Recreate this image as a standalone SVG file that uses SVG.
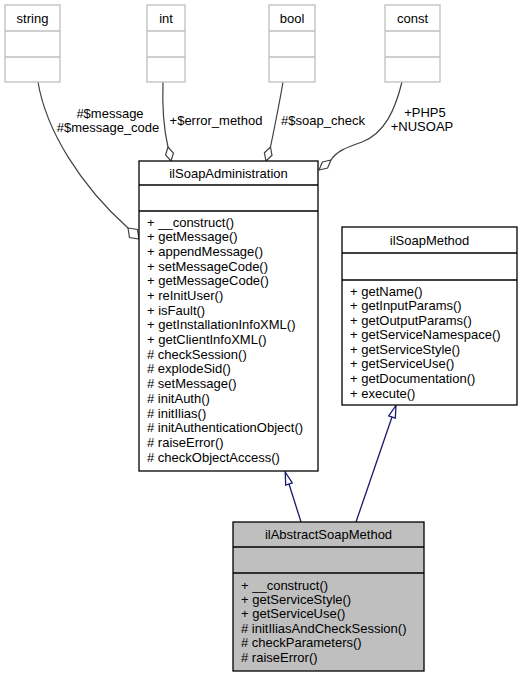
<svg xmlns="http://www.w3.org/2000/svg" width="523" height="677" viewBox="0 0 523 677">
<style>
text{font-family:"Liberation Sans",Arial,Helvetica,sans-serif;font-size:13px;fill:#000}
.c{text-anchor:middle}
.gb{fill:#fff;stroke:#bfbfbf;stroke-width:1.3}
.gl{stroke:#bfbfbf;stroke-width:1.3}
.b{fill:#fff;stroke:#000;stroke-width:1.3}
.bg{fill:#bfbfbf;stroke:#000;stroke-width:1.3}
.bl{stroke:#000;stroke-width:1.3}
.agg{fill:none;stroke:#404040;stroke-width:1.2}
.dia{fill:#fff;stroke:#404040;stroke-width:1.2}
.inh{fill:none;stroke:#191970;stroke-width:1.3}
.tri{fill:#fff;stroke:#191970;stroke-width:1.3}
</style>
<rect width="523" height="677" fill="#fff"/>
<g id="connectors">
<path class="agg" d="M38,82 C46,130 80,185 128,228"/>
<polygon class="dia" points="128,228 137.5,229.5 139,239 129.5,237.5"/>
<text class="c" x="110" y="117.5">#$message</text>
<text class="c" x="108" y="131.5">#$message_code</text>
<path class="agg" d="M163,82 C162,110 164,130 168,147"/>
<polygon class="dia" points="168,147 173.4,153.2 171,161 165.6,154.8"/>
<text class="c" x="216" y="124.5">+$error_method</text>
<path class="agg" d="M283,82 C280,100 275,125 270.5,147"/>
<polygon class="dia" points="270.5,147 272,155.2 266,161 264.4,152.8"/>
<text class="c" x="323" y="124.5">#$soap_check</text>
<path class="agg" d="M402,82 C395,110 385,133 362,142 C345,148 337,151 331,160"/>
<polygon class="dia" points="331,160 327.6,168.1 319,170 322.4,161.9"/>
<text class="c" x="425" y="116.5">+PHP5</text>
<text class="c" x="422" y="131">+NUSOAP</text>
<path class="inh" d="M301,522 L289,484"/>
<polygon class="tri" points="285.2,472 292.3,482.9 285.7,485.1"/>
<path class="inh" d="M356,522 L392,417"/>
<polygon class="tri" points="396,405.5 395.3,418.1 388.7,415.9"/>
</g>
<g id="string">
<rect class="gb" x="5" y="5" width="55" height="77"/>
<line class="gl" x1="5" y1="31" x2="60" y2="31"/>
<line class="gl" x1="5" y1="57" x2="60" y2="57"/>
<text class="c" x="32.5" y="22.5">string</text>
</g>
<g id="int">
<rect class="gb" x="147" y="5" width="38" height="77"/>
<line class="gl" x1="147" y1="31" x2="185" y2="31"/>
<line class="gl" x1="147" y1="57" x2="185" y2="57"/>
<text class="c" x="166" y="22.5">int</text>
</g>
<g id="bool">
<rect class="gb" x="269" y="5" width="46" height="77"/>
<line class="gl" x1="269" y1="31" x2="315" y2="31"/>
<line class="gl" x1="269" y1="57" x2="315" y2="57"/>
<text class="c" x="292" y="22.5">bool</text>
</g>
<g id="const">
<rect class="gb" x="385" y="5" width="55" height="77"/>
<line class="gl" x1="385" y1="31" x2="440" y2="31"/>
<line class="gl" x1="385" y1="57" x2="440" y2="57"/>
<text class="c" x="412.5" y="22.5">const</text>
</g>
<g id="ilSoapAdministration">
<rect class="b" x="139" y="161" width="179" height="310"/>
<line class="bl" x1="139" y1="185" x2="318" y2="185"/>
<line class="bl" x1="139" y1="211" x2="318" y2="211"/>
<text class="c" x="228.5" y="177.5">ilSoapAdministration</text>
<text x="147" y="226.5">+ __construct()</text>
<text x="147" y="241.2">+ getMessage()</text>
<text x="147" y="255.9">+ appendMessage()</text>
<text x="147" y="270.6">+ setMessageCode()</text>
<text x="147" y="285.3">+ getMessageCode()</text>
<text x="147" y="300">+ reInitUser()</text>
<text x="147" y="314.6">+ isFault()</text>
<text x="147" y="329.3">+ getInstallationInfoXML()</text>
<text x="147" y="344">+ getClientInfoXML()</text>
<text x="147" y="358.7">#  checkSession()</text>
<text x="147" y="373.4">#  explodeSid()</text>
<text x="147" y="388.1">#  setMessage()</text>
<text x="147" y="402.8">#  initAuth()</text>
<text x="147" y="417.5">#  initIlias()</text>
<text x="147" y="432.2">#  initAuthenticationObject()</text>
<text x="147" y="446.9">#  raiseError()</text>
<text x="147" y="461.5">#  checkObjectAccess()</text>
</g>
<g id="ilSoapMethod">
<rect class="b" x="342" y="227" width="175" height="178"/>
<line class="bl" x1="342" y1="253" x2="517" y2="253"/>
<line class="bl" x1="342" y1="280" x2="517" y2="280"/>
<text class="c" x="429.5" y="244.5">ilSoapMethod</text>
<text x="350" y="295.5">+ getName()</text>
<text x="350" y="310.1">+ getInputParams()</text>
<text x="350" y="324.6">+ getOutputParams()</text>
<text x="350" y="339.2">+ getServiceNamespace()</text>
<text x="350" y="353.8">+ getServiceStyle()</text>
<text x="350" y="368.4">+ getServiceUse()</text>
<text x="350" y="382.9">+ getDocumentation()</text>
<text x="350" y="397.5">+ execute()</text>
</g>
<g id="ilAbstractSoapMethod">
<rect class="bg" x="233" y="522" width="191" height="149"/>
<line class="bl" x1="233" y1="547" x2="424" y2="547"/>
<line class="bl" x1="233" y1="573" x2="424" y2="573"/>
<text class="c" x="328.5" y="539">ilAbstractSoapMethod</text>
<text x="241" y="589.5">+ __construct()</text>
<text x="241" y="603.9">+ getServiceStyle()</text>
<text x="241" y="618.3">+ getServiceUse()</text>
<text x="241" y="632.7">#  initIliasAndCheckSession()</text>
<text x="241" y="647.1">#  checkParameters()</text>
<text x="241" y="661.5">#  raiseError()</text>
</g>
</svg>
